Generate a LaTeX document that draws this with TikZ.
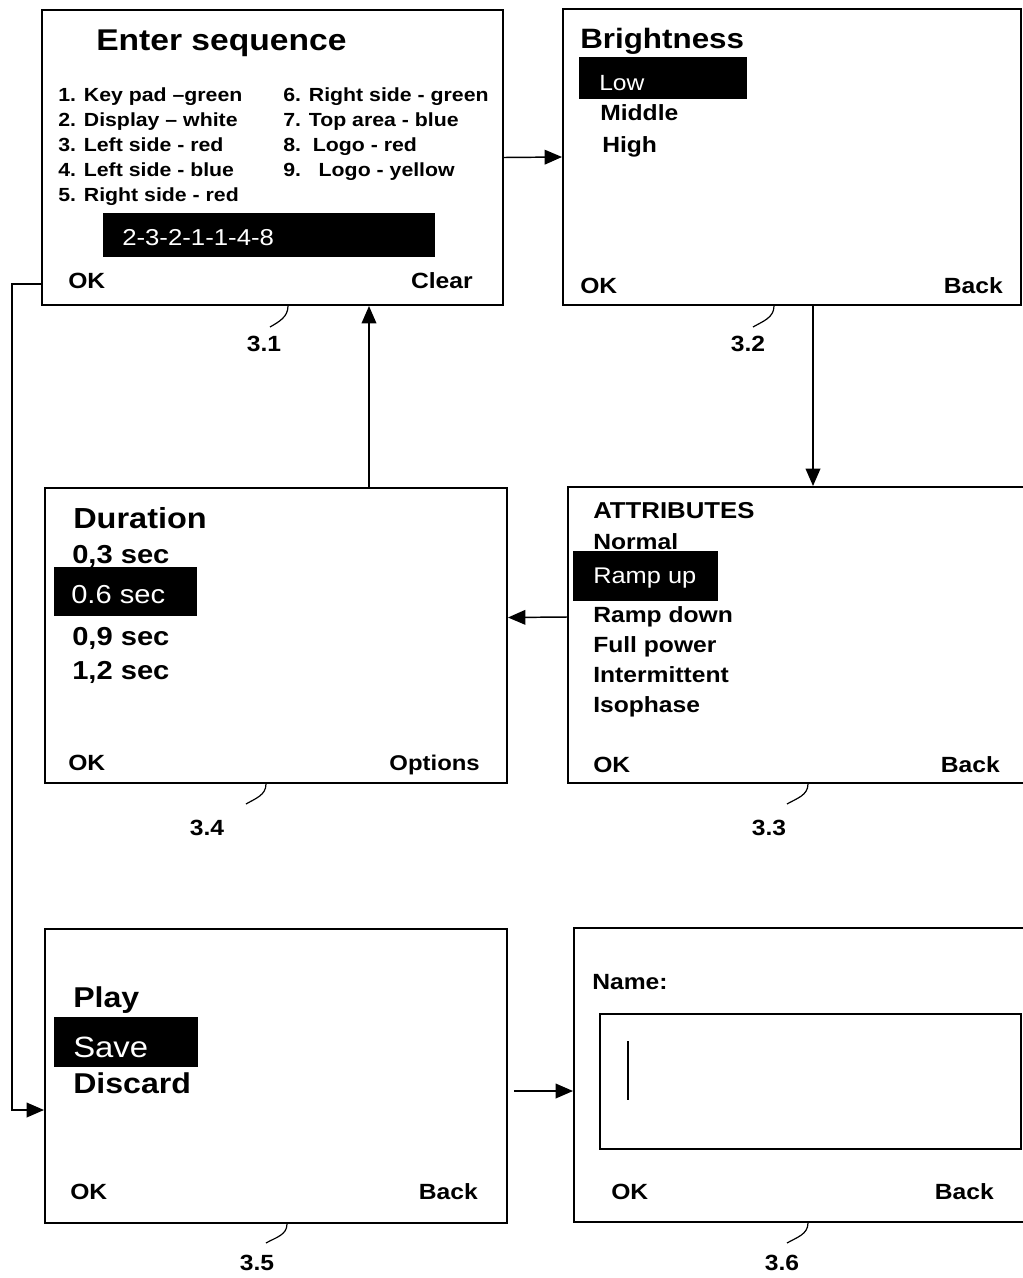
\documentclass[tikz,border=0pt]{standalone}
\usepackage{fontspec}
\setmainfont{Liberation Sans}[FakeStretch=1.12]
\usetikzlibrary{arrows.meta,calc}

\begin{document}
\begin{tikzpicture}[
  x=0.75pt, y=-0.75pt,
  screen/.style={draw,line width=1.5pt,inner sep=0pt,anchor=north west},
  dims/.style 2 args={minimum width=#1*0.75pt,minimum height=#2*0.75pt},
  hlbar/.style={fill=black,inner sep=0pt,anchor=north west},
  txt/.style={anchor=base west,inner sep=0pt,font=\bfseries\fontsize{#1}{#1}\selectfont},
  txt/.default=16.5,
  txtr/.style={txt=#1,anchor=base east},
  txtr/.default=16.5,
  seltxt/.style={anchor=base west,inner sep=0pt,text=white,font=\fontsize{#1}{#1}\selectfont},
  tag/.style={inner sep=1pt,font=\bfseries\fontsize{16.5}{16.5}\selectfont},
  link/.style={-{Triangle[length=13pt,width=11pt]},line width=1.1pt},
  lead/.style={line width=0.9pt}
]
  \useasboundingbox (0,0) rectangle (1022,1278);

  % screens
  \node[screen,dims={461}{295}] (s31) at (41,9) {};
  \node[screen,dims={458}{296}] (s32) at (562,8) {};
  \node[screen,dims={460}{296}] (s33) at (567,486) {};
  \node[screen,dims={462}{295}] (s34) at (44,487) {};
  \node[screen,dims={462}{294}] (s35) at (44,928) {};
  \node[screen,dims={454}{294}] (s36) at (573,927) {};

  % 3.1 enter sequence
  \node[txt=22.5] (t31) at (96,50) {Enter sequence};
  \node[txt=14.25] (c1) at (58,101) {1. Key pad --green};
  \node[txt=14.25] (c2) at (58,126) {2. Display -- white};
  \node[txt=14.25] (c3) at (58,151) {3. Left side - red};
  \node[txt=14.25] (c4) at (58,176) {4. Left side - blue};
  \node[txt=14.25] (c5) at (58,201) {5. Right side - red};
  \node[txt=14.25] (c6) at (283,101) {6. Right side - green};
  \node[txt=14.25] (c7) at (283,126) {7. Top area - blue};
  \node[txt=14.25] (c8) at (283,151) {8.~~Logo - red};
  \node[txt=14.25] (c9) at (283,176) {9.~~~Logo - yellow};
  \node[hlbar,dims={332}{44}] (b31) at (103,213) {};
  \node[seltxt=17.25] (seq) at (122,245) {2-3-2-1-1-4-8};
  \node[txt] (ok31) at (68,288) {OK};
  \node[txtr] (clr31) at (473,288) {Clear};

  % 3.2 brightness
  \node[txt=21] (t32) at (580,48) {Brightness};
  \node[hlbar,dims={168}{42}] (b32) at (579,57) {};
  \node[seltxt=16.5] (low) at (599,90) {Low};
  \node[txt] (mid) at (600,120) {Middle};
  \node[txt] (high) at (602,152) {High};
  \node[txt] (ok32) at (580,293) {OK};
  \node[txtr] (bk32) at (1003,293) {Back};

  % 3.3 attributes
  \node[txt=17.25] (t33) at (593,518) {ATTRIBUTES};
  \node[txt] (a1) at (593,549) {Normal};
  \node[hlbar,dims={145}{50}] (b33) at (573,551) {};
  \node[seltxt=17] (a2) at (593,583) {Ramp up};
  \node[txt] (a3) at (593,622) {Ramp down};
  \node[txt] (a4) at (593,652) {Full power};
  \node[txt] (a5) at (593,682) {Intermittent};
  \node[txt] (a6) at (593,712) {Isophase};
  \node[txt] (ok33) at (593,772) {OK};
  \node[txtr] (bk33) at (1000,772) {Back};

  % 3.4 duration
  \node[txt=21.75] (t34) at (73,528) {Duration};
  \node[txt=19.5] (d1) at (72,563) {0,3 sec};
  \node[hlbar,dims={143}{49}] (b34) at (54,567) {};
  \node[seltxt=19.5] (d2) at (71,603) {0.6 sec};
  \node[txt=19.5] (d3) at (72,645) {0,9 sec};
  \node[txt=19.5] (d4) at (72,679) {1,2 sec};
  \node[txt] (ok34) at (68,770) {OK};
  \node[txtr=16] (opt34) at (480,770) {Options};

  % 3.5 play / save / discard
  \node[txt=21.5] (p1) at (73,1007) {Play};
  \node[hlbar,dims={144}{50}] (b35) at (54,1017) {};
  \node[seltxt=22] (p2) at (73,1057) {Save};
  \node[txt=21.5] (p3) at (73,1093) {Discard};
  \node[txt] (ok35) at (70,1199) {OK};
  \node[txtr] (bk35) at (478,1199) {Back};

  % 3.6 name entry
  \node[txt] (nm) at (592,989) {Name:};
  \node[screen,line width=1.3pt,dims={421}{135}] (field) at (599,1013) {};
  \draw[line width=1.5pt] ($(field.north west)+(29,28)$) -- ++(0,59);
  \node[txt] (ok36) at (611,1199) {OK};
  \node[txtr] (bk36) at (994,1199) {Back};

  % reference numerals
  \node[tag] (l31) at (264,344) {3.1};
  \node[tag] (l32) at (748,344) {3.2};
  \node[tag] (l33) at (769,828) {3.3};
  \node[tag] (l34) at (207,828) {3.4};
  \node[tag] (l35) at (257,1263) {3.5};
  \node[tag] (l36) at (782,1263) {3.6};
  \draw[lead] ($(s31.south)+(15.5,0)$) to[out=-90,in=30] ($(l31)+(6,-17)$);
  \draw[lead] ($(s32.south)+(-18,0)$) to[out=-90,in=30] ($(l32)+(5,-17)$);
  \draw[lead] ($(s33.south)+(10,0)$) to[out=-90,in=30] ($(l33)+(18,-24)$);
  \draw[lead] ($(s34.south)+(-10,0)$) to[out=-90,in=30] ($(l34)+(39,-24)$);
  \draw[lead] ($(s35.south)+(11,0)$) to[out=-90,in=30] ($(l35)+(9,-20)$);
  \draw[lead] ($(s36.south)+(7,0)$) to[out=-90,in=30] ($(l36)+(5,-20)$);

  % flow
  \coordinate (dn32) at ($(s32.south)+(21,0)$);
  \coordinate (up34) at ($(s34.north)+(93,0)$);
  \coordinate (okout) at ($(s31.west)+(0,126.5)$);
  \coordinate (in35) at ($(s35.west)+(0,34)$);
  \coordinate (out35) at ($(s35.east)+(6,15)$);
  \draw[link] (s31.east) -- (s32.west);
  \draw[link] (dn32) -- (dn32 |- s33.north);
  \draw[link] ($(s33.west)+(0,-18)$) -- ($(s34.east)+(0,-18)$);
  \draw[link] (up34) -- (up34 |- s31.south);
  \draw[link] (okout) -- ++(-29,0) |- (in35);
  \draw[link] (out35) -- (out35 -| s36.west);

\end{tikzpicture}
\end{document}
